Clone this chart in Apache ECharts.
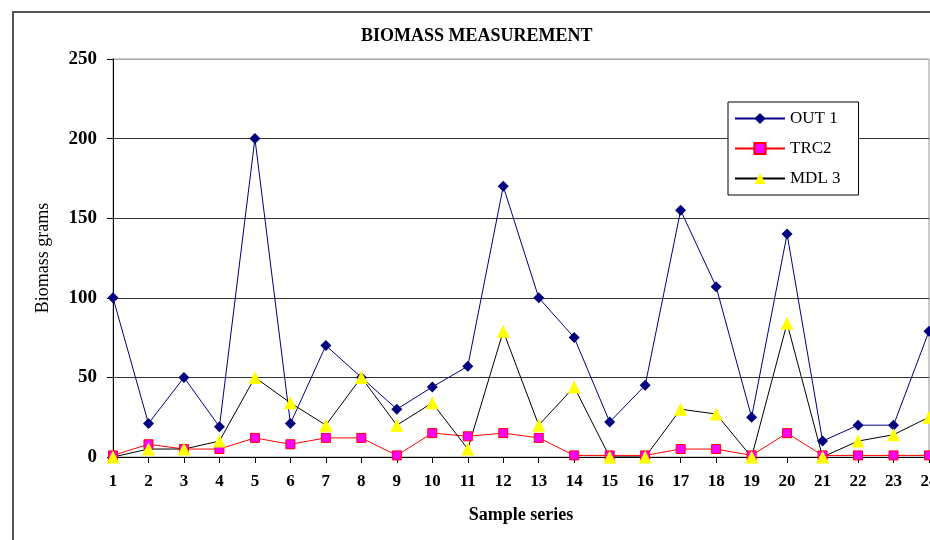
<!DOCTYPE html>
<html>
<head>
<meta charset="utf-8">
<script src="https://cdn.jsdelivr.net/npm/echarts@6/dist/echarts.min.js"></script>
<style>
  html, body { margin: 0; padding: 0; background: #fff; }
  #chart { width: 930px; height: 540px; }
</style>
</head>
<body>
<div id="chart"></div>
<script>
// data
const samples = ['1', '2', '3', '4', '5', '6', '7', '8', '9', '10', '11', '12',
  '13', '14', '15', '16', '17', '18', '19', '20', '21', '22', '23', '24']
const out1 = [100, 21, 50, 19, 200, 21, 70, 50, 30, 44, 57, 170, 100, 75, 22, 45, 155, 107, 25, 140, 10, 20, 20, 79]
const trc2 = [1, 8, 5, 5, 12, 8, 12, 12, 1, 15, 13, 15, 12, 1, 1, 1, 5, 5, 1, 15, 1, 1, 1, 1]
const mdl3 = [0, 5, 5, 10, 50, 34, 20, 50, 20, 34, 5, 79, 20, 44, 0, 0, 30, 27, 0, 84, 0, 10, 14, 25]
const yTicks = [0, 50, 100, 150, 200, 250]

const serif = '"Liberation Serif", "DejaVu Serif", serif'

const chart = echarts.init(document.getElementById('chart'))

const option = {
  animation: false,
  backgroundColor: '#fff',
  textStyle: { fontFamily: serif },
  graphic: [
    {
      type: 'rect',
      shape: { x: 13, y: 12, width: 940, height: 560 },
      style: { fill: 'none', stroke: '#555', lineWidth: 2 }
    }
  ],
  title: {
    text: 'BIOMASS MEASUREMENT',
    left: 356,
    top: 22,
    textStyle: { fontFamily: serif, fontSize: 18, fontWeight: 'bold', color: '#000' }
  },
  legend: {
    orient: 'vertical',
    left: 728,
    top: 102,
    width: 131,
    padding: [8, 18, 8, 6],
    itemGap: 13,
    itemWidth: 50,
    itemHeight: 14,
    backgroundColor: '#fff',
    borderColor: '#000',
    borderWidth: 1,
    textStyle: { fontFamily: serif, fontSize: 17, color: '#000' },
    data: ['OUT 1', 'TRC2', 'MDL 3']
  },
  grid: {
    left: 113,
    right: 1,
    top: 59,
    bottom: 83,
    outerBoundsMode: 'none',
    containLabel: false,
    show: true,
    borderColor: '#999',
    borderWidth: 1
  },
  xAxis: {
    type: 'category',
    data: samples,
    boundaryGap: false,
    name: 'Sample series',
    nameLocation: 'middle',
    nameGap: 49,
    nameTextStyle: { fontFamily: serif, fontSize: 18, fontWeight: 'bold', color: '#000' },
    axisLine: { lineStyle: { color: '#000', width: 1 } },
    axisTick: { length: 6, lineStyle: { color: '#000' }, alignWithLabel: true },
    axisLabel: { interval: 0, hideOverlap: false, margin: 16, fontFamily: serif, fontSize: 17, fontWeight: 'bold', color: '#000' }
  },
  yAxis: {
    type: 'value',
    min: yTicks[0],
    max: yTicks[yTicks.length - 1],
    interval: 50,
    name: 'Biomass grams',
    nameLocation: 'middle',
    nameGap: 61,
    nameTextStyle: { fontFamily: serif, fontSize: 18, color: '#000' },
    axisLine: { show: true, lineStyle: { color: '#000', width: 1 } },
    axisTick: { show: true, length: 6, lineStyle: { color: '#000' } },
    axisLabel: { margin: 16, fontFamily: serif, fontSize: 19, fontWeight: 'bold', color: '#000' },
    splitLine: {
      lineStyle: { color: ['#333', '#333', '#333', '#333', '#333', '#aaa'], width: 1 }
    }
  },
  series: [
    {
      name: 'OUT 1',
      type: 'line',
      data: out1,
      symbol: 'diamond',
      symbolSize: 11,
      lineStyle: { color: '#000080', width: 1 },
      itemStyle: { color: '#000080' }
    },
    {
      name: 'TRC2',
      type: 'line',
      data: trc2,
      symbol: 'rect',
      symbolSize: 9,
      lineStyle: { color: '#ff0000', width: 1 },
      itemStyle: { color: '#ff00ff', borderColor: '#ff0000', borderWidth: 1 }
    },
    {
      name: 'MDL 3',
      type: 'line',
      data: mdl3,
      symbol: 'triangle',
      symbolSize: 13,
      lineStyle: { color: '#000', width: 1 },
      itemStyle: { color: '#ffff00' }
    }
  ]
}

chart.setOption(option)
</script>
</body>
</html>
